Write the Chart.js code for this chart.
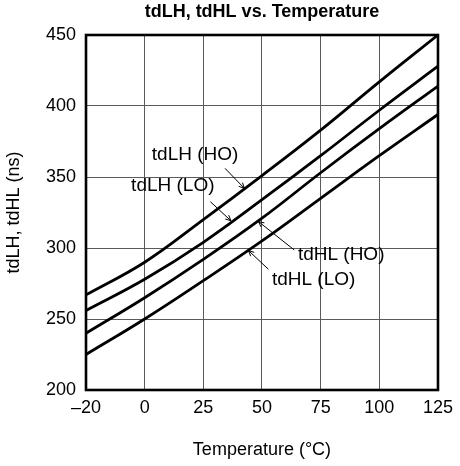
<!DOCTYPE html>
<html>
<head>
<meta charset="utf-8">
<script src="https://cdn.jsdelivr.net/npm/chart.js@4"></script>
<style>
  html, body { margin: 0; padding: 0; background: #fff; }
  #chart { display: block; }
</style>
</head>
<body>
<canvas id="chart" width="460" height="466"></canvas>
<script>
'use strict';

// ── Daten ──
const temps   = ['\u201320', '0', '25', '50', '75', '100', '125'];
const tdLH_HO = [267, 290, 320, 351, 383, 417, 450];
const tdLH_LO = [256, 278, 304, 334, 365, 397, 428];
const tdHL_HO = [240, 265, 292, 321, 353, 384, 414];
const tdHL_LO = [225, 250, 277, 305, 335, 365, 394];
const yTicks  = [200, 250, 300, 350, 400, 450];

// Beschriftungen: Textmitte und Hinweislinie in Achsenwerten (x = Kategorie-Index)
const callouts = [
  { text: 'tdLH (HO)', at: [1.86, 365.5], from: [2.37, 356.1], to: [2.70, 342.0] },
  { text: 'tdLH (LO)', at: [1.48, 343.9], from: [2.12, 332.6], to: [2.47, 319.2] },
  { text: 'tdHL (HO)', at: [4.35, 295.1], from: [3.55, 298.6], to: [2.94, 318.6] },
  { text: 'tdHL (LO)', at: [3.88, 277.5], from: [3.11, 285.0], to: [2.77, 298.2] },
];

const FONT = 'Liberation Sans, Arial, Helvetica, sans-serif';

const $ = id => document.getElementById(id);

// ── Rahmen + Beschriftungen ──
const framePlugin = {
  id: 'framePlugin',
  afterDatasetsDraw(chart) {
    const { ctx, chartArea: a, scales: { x, y } } = chart;
    ctx.save();
    ctx.strokeStyle = '#000';
    ctx.lineWidth = 2.6;
    ctx.strokeRect(a.left, a.top, a.right - a.left, a.bottom - a.top);

    ctx.font = `19px ${FONT}`;
    ctx.fillStyle = '#000';
    ctx.textAlign = 'center';
    ctx.textBaseline = 'middle';
    ctx.lineWidth = 1;
    callouts.forEach(c => {
      ctx.fillText(c.text, x.getPixelForValue(c.at[0]), y.getPixelForValue(c.at[1]));
      const x1 = x.getPixelForValue(c.from[0]), y1 = y.getPixelForValue(c.from[1]);
      const x2 = x.getPixelForValue(c.to[0]),   y2 = y.getPixelForValue(c.to[1]);
      ctx.beginPath();
      ctx.moveTo(x1, y1);
      ctx.lineTo(x2, y2);
      const ang = Math.atan2(y2 - y1, x2 - x1);
      [-0.45, 0.45].forEach(d => {
        ctx.moveTo(x2, y2);
        ctx.lineTo(x2 - 6 * Math.cos(ang + d), y2 - 6 * Math.sin(ang + d));
      });
      ctx.stroke();
    });
    ctx.restore();
  }
};

function series(data) {
  return {
    data,
    borderColor: '#000',
    borderWidth: 2.8,
    pointRadius: 0,
    fill: false,
    tension: 0.4,
  };
}

new Chart($('chart'), {
  type: 'line',
  data: {
    labels: temps,
    datasets: [series(tdLH_HO), series(tdLH_LO), series(tdHL_HO), series(tdHL_LO)],
  },
  options: {
    responsive: false,
    animation: false,
    layout: { padding: { left: 0, right: 19, top: 0, bottom: 0 } },
    plugins: {
      legend: { display: false },
      tooltip: { enabled: false },
      title: {
        display: true,
        fullSize: false,
        text: 'tdLH, tdHL vs. Temperature',
        color: '#000',
        font: { family: FONT, size: 18, weight: 'bold' },
        padding: { top: 1, bottom: 12.4 },
      },
    },
    scales: {
      x: {
        type: 'category',
        offset: false,
        grid: { color: '#5a5a5a', lineWidth: 1, drawTicks: false, offset: false },
        border: { display: false },
        ticks: { color: '#000', padding: 7, maxRotation: 0, autoSkip: false,
                 font: { family: FONT, size: 18 } },
        title: { display: true, text: 'Temperature (\u00B0C)', color: '#000',
                 font: { family: FONT, size: 18 }, padding: { top: 0, bottom: 5 } },
        afterFit: s => { s.height = 76; },
      },
      y: {
        min: yTicks[0],
        max: yTicks[yTicks.length - 1],
        afterBuildTicks: s => { s.ticks = yTicks.map(v => ({ value: v })); },
        grid: { color: '#5a5a5a', lineWidth: 1, drawTicks: false },
        border: { display: false },
        ticks: { color: '#000', padding: 10, font: { family: FONT, size: 18 } },
        title: { display: true, text: 'tdLH, tdHL (ns)', color: '#000',
                 font: { family: FONT, size: 18 }, padding: { top: 3, bottom: 0 } },
        afterFit: s => { s.width = 86; },
      },
    },
  },
  plugins: [framePlugin],
});
</script>
</body>
</html>
